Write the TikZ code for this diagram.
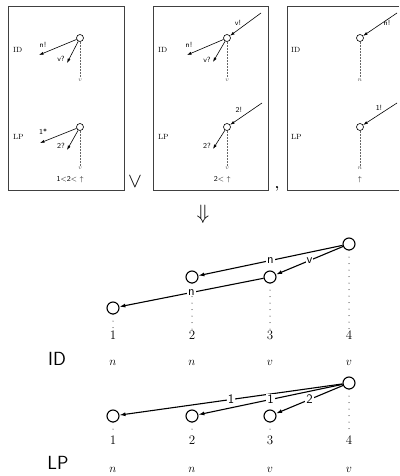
\documentclass[tikz,border=0pt]{standalone}
\usepackage{amssymb}
\usepackage{amsmath}
\usetikzlibrary{arrows.meta}

\tikzset{
  frm/.style={draw=black!75,line width=0.9pt},
  smallvtx/.style={circle,draw,line width=0.6pt,inner sep=0pt,minimum size=7pt},
  bigvtx/.style={circle,draw,line width=1.1pt,inner sep=0pt,minimum size=12pt},
  sdep/.style={-{Latex[length=4.5pt,width=3pt]},line width=0.6pt},
  bdep/.style={-{Latex[length=6pt,width=4pt]},line width=1.1pt},
  sdot/.style={draw=black!60,line width=0.5pt,dash pattern=on 0.6pt off 0.9pt},
  bdot/.style={line width=1pt,line cap=round,dash pattern=on 0pt off 6.5pt},
  tinylab/.style={font=\sffamily\fontsize{7.5}{8}\selectfont,inner sep=1pt},
  boxlab/.style={font=\rmfamily\fontsize{7.5}{8}\selectfont,inner sep=1pt},
  catsmall/.style={font=\fontsize{6.5}{7}\selectfont,text=black!70,inner sep=1pt},
  edgelab/.style={fill=white,font=\sffamily\fontsize{13}{13}\selectfont,inner sep=1pt},
  numlab/.style={font=\rmfamily\fontsize{13}{13}\selectfont,inner sep=1pt},
  catlab/.style={font=\fontsize{12}{12}\selectfont,inner sep=1pt},
  biglab/.style={font=\sffamily\fontsize{19}{19}\selectfont,inner sep=1pt}
}

\begin{document}
\begin{tikzpicture}[x=1pt,y=-1pt]
    \useasboundingbox (0,0) rectangle (399,476);

    \draw[frm] (8,6) rectangle (124,190);
    \draw[frm] (153,6) rectangle (268,190);
    \draw[frm] (399,6) -- (287,6) -- (287,190) -- (399,190);
    \node (alt) at (135,182) {\fontsize{20}{20}\selectfont$\vee$};
    \node (comma) at (277,189) {\fontsize{14}{14}\selectfont\textbf{,}};

    \foreach \bx in {12,157,290} {
        \node[boxlab,anchor=west] (id\bx) at (\bx,50) {ID};
        \node[boxlab,anchor=west] (lp\bx) at (\bx,137) {LP};
    }

    % first box
    \node[smallvtx] (a1) at (80,38) {};
    \coordinate (a1n) at (39,55);
    \coordinate (a1v) at (67,63);
    \draw[sdep] (a1) -- (a1n);
    \draw[sdep] (a1) -- (a1v);
    \node[tinylab] (ta1n) at (43,45) {n!};
    \node[tinylab] (ta1v) at (61,59) {v?};
    \node[catsmall] (ca1) at (80,80) {$v$};
    \draw[sdot] (a1) -- (ca1);

    \node[smallvtx] (b1) at (80,127) {};
    \coordinate (b1n) at (40,143);
    \coordinate (b1v) at (67,150);
    \draw[sdep] (b1) -- (b1n);
    \draw[sdep] (b1) -- (b1v);
    \node[tinylab] (tb1n) at (43,132) {1*};
    \node[tinylab] (tb1v) at (61,146) {2?};
    \node[catsmall] (cb1) at (80,168) {$v$};
    \draw[sdot] (b1) -- (cb1);
    \node[tinylab,anchor=east] (ord1) at (85,180) {1<2< $\uparrow$};

    % second box
    \node[smallvtx] (a2) at (227,38) {};
    \coordinate (a2h) at (261,13);
    \coordinate (a2n) at (187,55);
    \coordinate (a2v) at (213,62);
    \draw[sdep] (a2h) -- (a2);
    \draw[sdep] (a2) -- (a2n);
    \draw[sdep] (a2) -- (a2v);
    \node[tinylab] (ta2h) at (238,23) {v!};
    \node[tinylab] (ta2n) at (189,45) {n!};
    \node[tinylab] (ta2v) at (207,60) {v?};
    \node[catsmall] (ca2) at (227,80) {$v$};
    \draw[sdot] (a2) -- (ca2);

    \node[smallvtx] (b2) at (227,127) {};
    \coordinate (b2h) at (262,103);
    \coordinate (b2v) at (213,149);
    \draw[sdep] (b2h) -- (b2);
    \draw[sdep] (b2) -- (b2v);
    \node[tinylab] (tb2h) at (239,110) {2!};
    \node[tinylab] (tb2v) at (207,146) {2?};
    \node[catsmall] (cb2) at (227,168) {$v$};
    \draw[sdot] (b2) -- (cb2);
    \node[tinylab,anchor=east] (ord2) at (232,180) {2< $\uparrow$};

    % third box
    \node[smallvtx] (a3) at (360,38) {};
    \coordinate (a3h) at (397,13);
    \draw[sdep] (a3h) -- (a3);
    \node[tinylab] (ta3h) at (387,23) {n!};
    \node[catsmall] (ca3) at (360,80) {$n$};
    \draw[sdot] (a3) -- (ca3);

    \node[smallvtx] (b3) at (360,127) {};
    \coordinate (b3h) at (397,103);
    \draw[sdep] (b3h) -- (b3);
    \node[tinylab] (tb3h) at (379,108) {1!};
    \node[catsmall] (cb3) at (360,168) {$n$};
    \draw[sdot] (b3) -- (cb3);
    \node[tinylab] (ord3) at (360,180) {$\uparrow$};

    \node (impl) at (203,214) {\fontsize{22}{22}\selectfont$\Downarrow$};

    % ID tree
    \node[biglab] (idlab) at (57,359) {ID};
    \foreach \i/\x/\y/\c in {1/113/308/n,2/192/277/n,3/270/277/v,4/349/244/v} {
        \node[bigvtx] (w\i) at (\x,\y) {};
        \node[numlab] (wn\i) at (\x,335) {\i};
        \node[catlab] (wc\i) at (\x,363) {$\c$};
        \draw[bdot] (w\i.south) -- (wn\i.north);
    }
    \draw[bdep] (w4) -- node[edgelab] {n} (w2);
    \draw[bdep] (w4) -- node[edgelab] {v} (w3);
    \draw[bdep] (w3) -- node[edgelab] {n} (w1);

    % LP tree
    \node[biglab] (lplab) at (58,463) {LP};
    \foreach \i/\x/\y/\c in {1/113/416/n,2/192/416/n,3/270/416/v,4/349/383/v} {
        \node[bigvtx] (l\i) at (\x,\y) {};
        \node[numlab] (ln\i) at (\x,440) {\i};
        \node[catlab] (lc\i) at (\x,470) {$\c$};
        \draw[bdot] (l\i.south) -- (ln\i.north);
    }
    \draw[bdep] (l4) -- node[edgelab] {1} (l1);
    \draw[bdep] (l4) -- node[edgelab] {1} (l2);
    \draw[bdep] (l4) -- node[edgelab] {2} (l3);
\end{tikzpicture}
\end{document}
